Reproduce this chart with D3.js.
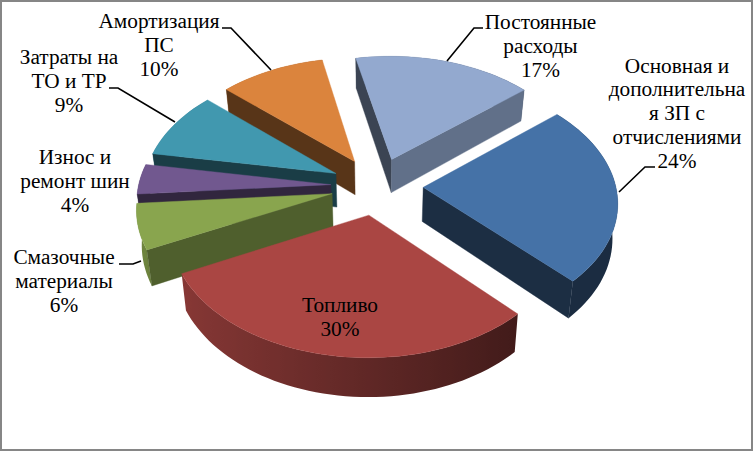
<!DOCTYPE html>
<html><head><meta charset="utf-8">
<script src="https://d3js.org/d3.v7.min.js"></script>
<style>html,body{margin:0;padding:0;background:#fff}svg{display:block}
text{font-family:"Liberation Serif",serif;font-size:21.3px;fill:#000;text-anchor:middle}</style>
</head><body><svg id="c" width="753" height="451"></svg>
<script>
const categories = ["Основная и дополнительная ЗП с отчислениями","Топливо","Смазочные материалы","Износ и ремонт шин","Затраты на ТО и ТР","Амортизация ПС","Постоянные расходы"];
const values = [24,30,6,4,9,10,17];
const colors = ["#4572a7","#aa4643","#89a54e","#71588f","#4198af","#db843d","#93a9cf"];
const labelLines = [
 ["Основная и","дополнительна","я ЗП с","отчислениями","24%"],
 ["Топливо","30%"],
 ["Смазочные","материалы","6%"],
 ["Износ и","ремонт шин","4%"],
 ["Затраты на","ТО и ТР","9%"],
 ["Амортизация","ПС","10%"],
 ["Постоянные","расходы","17%"]];
// layout
const labelPos = [[677,72.5],[340,312],[64,264],[75,164],[69,64],[159,28],[540.5,29]];
const lineH = 23.8;
const leaders = [
 [[655,167],[645,167],[619,192]],
 null,
 [[119,264],[133,264],[141,261]],
 null,
 [[109,88],[118,88],[175,122]],
 [[222,28],[231,28],[271,70]],
 [[483,28],[474,28],[447,61]]];
const cx=377, cy=186, rx=192.5, ky=120, persp=0.11, explode=0.24, depth=34, baseShrink=0.978;
const startDeg=49.5;

const svg=d3.select("#c");
const toRad=Math.PI/180;
const pie=d3.pie().sort(null).value(d=>d).startAngle(startDeg*toRad).endAngle(startDeg*toRad+2*Math.PI);
const arcs=pie(values).map((a,i)=>({...a,i,mid:(a.startAngle+a.endAngle)/2}));
const xS=d3.scaleLinear().domain([0,1]).range([0,rx]);
const yS=d3.scaleLinear().domain([0,1]).range([0,ky]);
function proj(X,Y,bottom){
  const w=1+persp*Y;
  let x=xS(X)/w, y=-yS(Y)/w;
  if(bottom){x*=baseShrink; y+=depth/w;}
  return [cx+x,cy+y];
}
const line=d3.line();
const shadeCol=(c,f)=>{const r=d3.rgb(c);return d3.rgb(r.r*f,r.g*f,r.b*f).formatHex();};
const wallShade=t=>0.39+0.41*Math.max(0,Math.min(1,((1-Math.sin(t))/2-0.16)/0.8));
const order=arcs.slice().sort((a,b)=>Math.cos(b.mid)-Math.cos(a.mid));
const defs=svg.append("defs");
const g=svg.append("g");
order.forEach(a=>{
  const ax=explode*Math.sin(a.mid), ay=explode*Math.cos(a.mid);
  const P=(t,b)=>proj(ax+Math.sin(t),ay+Math.cos(t),b);
  const A=b=>proj(ax,ay,b);
  const n=Math.max(4,Math.round((a.endAngle-a.startAngle)/toRad/2));
  const ts=d3.range(n+1).map(k=>a.startAngle+(a.endAngle-a.startAngle)*k/n);
  // outer wall: one path, shaded along x with a gradient
  const tops=ts.map(t=>P(t,0)), bots=ts.map(t=>P(t,1));
  const pts=ts.map(t=>({x:P(t,0)[0],f:wallShade(t)})).sort((p,q)=>p.x-q.x);
  const x0=pts[0].x,x1=pts[pts.length-1].x;
  const gr=defs.append("linearGradient").attr("id","w"+a.i).attr("gradientUnits","userSpaceOnUse")
    .attr("x1",x0).attr("x2",x1).attr("y1",0).attr("y2",0);
  pts.forEach(p=>gr.append("stop").attr("offset",(p.x-x0)/(x1-x0)).attr("stop-color",shadeCol(colors[a.i],p.f)));
  g.append("path").attr("d",line([...tops,...bots.reverse()])+"Z").attr("fill",`url(#w${a.i})`);
  // radial walls
  [[a.startAngle,-1],[a.endAngle,1]].forEach(([t,s])=>{
    const q=[A(0),P(t,0),P(t,1),A(1)];
    const nrm=t+s*Math.PI/2;
    const ar=d3.polygonArea(q);
    if(s>0 ? ar<0 : ar>0) {
      const col=shadeCol(colors[a.i],0.4+0.4*Math.max(0,Math.sin(nrm)));
      g.append("path").attr("d",line(q)+"Z").attr("fill",col).attr("stroke",col).attr("stroke-width",0.4);
    }
  });
  // top
  g.append("path").attr("d",line([A(0),...tops])+"Z").attr("fill",colors[a.i]).attr("stroke",colors[a.i]).attr("stroke-width",0.4);
});
// leaders
leaders.forEach(l=>{ if(l) svg.append("path").attr("d",line(l)).attr("fill","none").attr("stroke","#000").attr("stroke-width",1.6);});
// labels
labelLines.forEach((ls,i)=>{
  const t=svg.append("text").attr("x",labelPos[i][0]).attr("y",labelPos[i][1]);
  ls.forEach((s,k)=>t.append("tspan").attr("x",labelPos[i][0]).attr("y",labelPos[i][1]+k*lineH).text(s));
});
// frame
svg.append("rect").attr("x",1).attr("y",1).attr("width",751).attr("height",449).attr("fill","none").attr("stroke","#868686").attr("stroke-width",2);
</script></body></html>
